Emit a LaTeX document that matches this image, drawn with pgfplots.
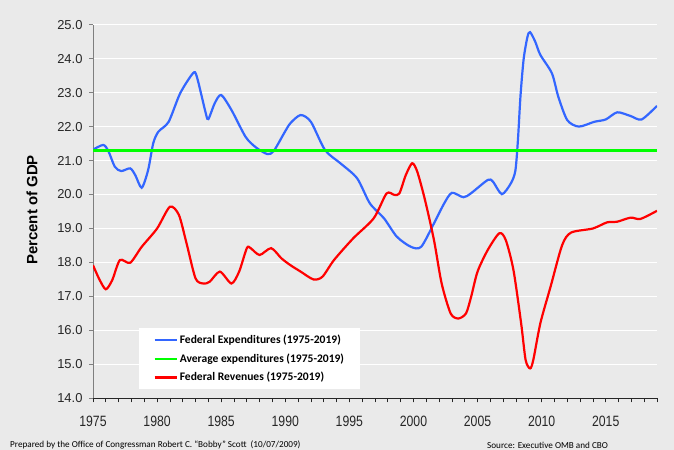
\documentclass[border=0pt]{standalone}
\usepackage{pgfplots}
\pgfplotsset{compat=1.18}
\usepackage{fontspec}
\setmainfont{Liberation Sans}
\newfontfamily\calibri{Carlito}
\newfontfamily\narrowsans[FakeStretch=0.82]{Liberation Sans}

\definecolor{bg}{HTML}{EAEAEA}
\definecolor{expblue}{HTML}{3366FF}
\definecolor{avggreen}{HTML}{00FF00}
\definecolor{revred}{HTML}{FF0000}
\definecolor{axgray}{HTML}{7F7F7F}

\begin{document}
\begin{tikzpicture}
\fill[bg] (0,0) rectangle (674bp,450bp);
\path[use as bounding box] (0,0) rectangle (674bp,450bp);
\begin{axis}[
  at={(93bp,51.7bp)}, anchor=south west,
  scale only axis, width=564bp, height=373.6bp,
  xmin=1975, xmax=2019, ymin=14, ymax=25,
  axis x line*=bottom, axis y line*=left,
  x axis line style={black!85, line width=0.9bp},
  y axis line style={axgray, line width=0.9bp},
  xtick={1975,1980,...,2015}, minor xtick={1976,...,2019},
  ytick={14,15,...,25},
  tick align=outside,
  major tick length=4bp, minor tick length=4bp,
  x tick style={black!85, line width=0.7bp},
  y tick style={axgray, line width=0.7bp},
  ymajorgrids, grid style={white, line width=1.3bp},
  yticklabel style={font=\fontsize{13}{14}\selectfont, text=black!85, xshift=-3bp,
    /pgf/number format/.cd, fixed, fixed zerofill, precision=1, assume math mode=true},
  xticklabel style={font=\narrowsans\fontsize{15}{16}\selectfont, text=black!85, yshift=-10bp,
    /pgf/number format/.cd, set thousands separator={}, assume math mode=true},
  ylabel={Percent of GDP},
  every axis y label/.style={at={(axis description cs:-0.108,0.504)}, rotate=90, anchor=center,
    font=\fontsize{15}{16}\selectfont\bfseries},
  legend style={at={(axis description cs:0.0816,0.188)}, anchor=north west,
    draw=none, fill=white, font=\calibri\bfseries\fontsize{11.6}{12}\selectfont,
    inner xsep=14bp, inner ysep=5bp, row sep=4.5bp},
  legend cell align=left,
  legend image code/.code={\draw[#1] (0bp,0bp) -- (22bp,0bp);},
]
\addplot[expblue, line width=2.2bp, smooth, tension=0.45] coordinates {
(1975,21.32) (1975.8,21.46) (1976.2,21.28) (1976.7,20.82) (1977.2,20.69) (1977.9,20.77)
(1978.3,20.57) (1978.8,20.2) (1979.3,20.72) (1979.7,21.51) (1980.1,21.85) (1980.9,22.14)
(1981.8,22.98) (1982.8,23.57) (1983.1,23.47) (1983.8,22.39) (1984.0,22.22) (1984.5,22.69)
(1985.0,22.93) (1985.8,22.49) (1986.9,21.70) (1987.7,21.39) (1988.6,21.19) (1989.1,21.28)
(1989.9,21.8) (1990.4,22.1) (1991.2,22.34) (1992.0,22.14) (1993.1,21.31) (1994.3,20.92)
(1995.6,20.48) (1996.6,19.74) (1997.7,19.3) (1998.7,18.76) (1999.8,18.46) (2000.6,18.46)
(2001.6,19.15) (2002.4,19.74) (2003.0,20.05) (2003.9,19.92) (2004.5,20.04) (2005.8,20.43)
(2006.2,20.38) (2006.9,20.01) (2007.6,20.33) (2007.95,20.7) (2008.15,21.6) (2008.35,22.9)
(2008.6,24.0) (2008.9,24.65) (2009.1,24.78) (2009.5,24.5) (2009.9,24.11) (2010.8,23.57)
(2011.3,22.88) (2012.0,22.19) (2012.9,22.0) (2014.1,22.14) (2015.0,22.21) (2015.9,22.42)
(2016.95,22.31) (2017.8,22.21) (2019,22.61)};
\addlegendentry{Federal Expenditures (1975-2019)}
\addplot[avggreen, line width=2.6bp] coordinates {(1975,21.3) (2019,21.3)};
\addlegendentry{Average expenditures (1975-2019)}
\addplot[revred, line width=2.2bp, smooth, tension=0.45] coordinates {
(1975,17.92) (1975.5,17.5) (1976,17.21) (1976.5,17.48) (1977.1,18.07) (1977.9,17.99)
(1978.8,18.46) (1980.0,19.0) (1981.0,19.64) (1981.7,19.40) (1982.3,18.56) (1983.0,17.53)
(1983.6,17.38) (1984.1,17.43) (1984.9,17.73) (1985.8,17.38) (1986.4,17.73) (1987.0,18.42)
(1987.3,18.42) (1988.0,18.22) (1988.9,18.42) (1989.7,18.12) (1990.4,17.92) (1991.2,17.73)
(1992.2,17.50) (1992.9,17.58) (1993.8,18.07) (1995.3,18.71) (1996.9,19.30) (1997.9,20.03)
(1998.5,19.99) (1998.9,20.03) (1999.4,20.57) (1999.9,20.92) (2000.3,20.67) (2000.9,19.84)
(2001.6,18.66) (2002.2,17.38) (2002.9,16.5) (2003.5,16.35) (2004.1,16.5) (2004.5,16.99)
(2005.0,17.73) (2005.8,18.37) (2006.7,18.86) (2007.2,18.66) (2007.8,17.78) (2008.4,16.21)
(2008.75,15.13) (2009.1,14.88) (2009.35,15.13) (2009.9,16.21) (2010.7,17.29) (2011.6,18.51)
(2012.3,18.88) (2014.0,19.0) (2015.1,19.18) (2015.9,19.2) (2016.95,19.32) (2017.7,19.28)
(2019,19.52)};
\addlegendentry{Federal Revenues (1975-2019)}
\end{axis}
\node[anchor=west, inner sep=0pt, font=\calibri\fontsize{9.2}{9.5}\selectfont] at (10bp,5bp)
  {Prepared by the Office of Congressman Robert C. “Bobby” Scott~~(10/07/2009)};
\node[anchor=west, inner sep=0pt, font=\calibri\fontsize{9.2}{9.5}\selectfont] at (487bp,5bp)
  {Source: Executive OMB and CBO};
\end{tikzpicture}
\end{document}
